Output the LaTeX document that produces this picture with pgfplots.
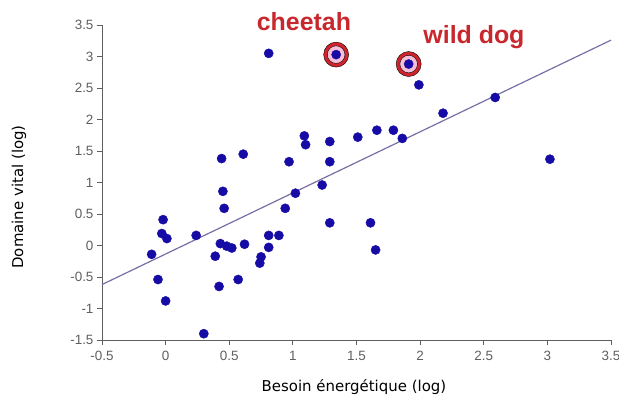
\documentclass[border=0pt]{standalone}
\usepackage{fontspec}
\setmainfont{DejaVu Sans}
\newfontfamily\arialfont{Liberation Sans}
\usepackage{pgfplots}
\pgfplotsset{compat=1.18}
\definecolor{dotblue}{RGB}{22,12,165}
\definecolor{regline}{RGB}{120,110,165}
\definecolor{ringred}{RGB}{210,35,45}
\definecolor{ringpink}{RGB}{248,190,215}
\definecolor{labred}{RGB}{200,40,45}
\definecolor{axgray}{RGB}{95,95,95}
\begin{document}
\begin{tikzpicture}
\begin{axis}[
  width=509bp, height=315bp, scale only axis=true,
  xmin=-0.5, xmax=3.5, ymin=-1.5, ymax=3.5,
  axis x line*=bottom, axis y line*=left,
  axis line style={-, axgray, line width=0.9pt},
  xtick={-0.5,0,0.5,1,1.5,2,2.5,3,3.5},
  ytick={-1.5,-1,-0.5,0,0.5,1,1.5,2,2.5,3,3.5},
  tick align=outside, major tick length=5bp,
  tick style={axgray, line width=0.8pt},
  /pgf/number format/assume math mode=true,
  ticklabel style={font=\arialfont\fontsize{13.5}{15}\selectfont, text=axgray},
  xticklabel style={yshift=-3bp},
  yticklabel style={xshift=0bp},
  xlabel={Besoin énergétique (log)},
  ylabel={Domaine vital (log)},
  label style={font=\fontsize{15}{18}\selectfont, text=black},
  xlabel style={at={(axis description cs:0.495,-0.165)}, anchor=base},
  ylabel style={at={(axis description cs:-0.163,0.454)}, anchor=center},
  clip=false,
]
\addplot[regline, line width=1.2pt] coordinates {(-0.5,-0.62) (3.5,3.26)};
\addplot[only marks, mark=*, mark size=4.6bp, mark options={draw=dotblue, fill=dotblue}] coordinates {
(-0.11,-0.14) (-0.06,-0.54) (-0.02,0.41) (-0.03,0.19) (0.01,0.11) (0.00,-0.88)
(0.24,0.16) (0.30,-1.40) (0.39,-0.17) (0.42,-0.65) (0.45,0.86) (0.46,0.59)
(0.44,1.38) (0.61,1.45) (0.43,0.03) (0.48,-0.01) (0.52,-0.04) (0.57,-0.54)
(0.62,0.02) (0.74,-0.28) (0.75,-0.18) (0.81,-0.03) (0.81,0.16) (0.89,0.16)
(0.94,0.59) (0.97,1.33) (1.02,0.83) (1.09,1.74) (1.10,1.60) (1.23,0.96)
(1.29,0.36) (1.29,1.33) (1.29,1.65) (1.51,1.72) (1.66,1.83) (1.79,1.83)
(1.86,1.70) (1.61,0.36) (1.65,-0.07) (1.99,2.55) (2.18,2.10) (2.59,2.35)
(3.02,1.37) (0.81,3.05)
};
% highlighted species: cheetah, wild dog
\addplot[only marks, mark=*, mark size=12.5bp, mark options={draw=none, fill=ringred}] coordinates {(1.34,3.03) (1.91,2.88)};
\addplot[only marks, mark=*, mark size=8.8bp, mark options={draw=none, fill=ringpink}] coordinates {(1.34,3.03) (1.91,2.88)};
\addplot[only marks, mark=*, mark size=4.6bp, mark options={draw=dotblue, fill=dotblue}] coordinates {(1.34,3.03) (1.91,2.88)};
\node[anchor=base, text=labred, font=\arialfont\bfseries\fontsize{25}{28}\selectfont] at (axis cs:1.087,3.405) {cheetah};
\node[anchor=base, text=labred, font=\arialfont\bfseries\fontsize{25}{28}\selectfont] at (axis cs:2.423,3.21) {wild dog};
\end{axis}
\pgfresetboundingbox
\useasboundingbox (-102bp,-56bp) rectangle (517bp,340bp);
\end{tikzpicture}
\end{document}
